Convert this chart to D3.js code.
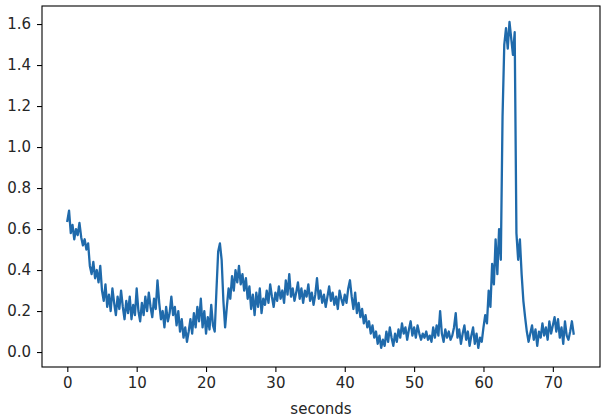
<!DOCTYPE html>
<html>
<head>
<meta charset="utf-8">
<script src="https://cdn.jsdelivr.net/npm/d3@7"></script>
<style>
  html, body { margin: 0; padding: 0; background: #fff; }
  svg { display: block; }
  text { font-family: "DejaVu Sans", sans-serif; fill: #262626; }
</style>
</head>
<body>
<svg id="chart" width="607" height="418"></svg>
<script>
// Sample interval of the recorded signal (seconds)
const sampleInterval = 0.25;

// Signal values, 4 samples per second
const signalValues = [
  0.64, 0.69, 0.58, 0.62,  0.55, 0.60, 0.57, 0.63,  0.56, 0.52, 0.55, 0.50,
  0.53, 0.42, 0.38, 0.44,  0.36, 0.40, 0.34, 0.42,  0.30, 0.25, 0.33, 0.22,
  0.28, 0.20, 0.31, 0.24,  0.18, 0.27, 0.21, 0.30,  0.22, 0.16, 0.25, 0.19,
  0.27, 0.16, 0.23, 0.18,  0.31, 0.20, 0.15, 0.24,  0.18, 0.27, 0.20, 0.29,
  0.22, 0.17, 0.26, 0.21,  0.35, 0.24, 0.16, 0.20,  0.12, 0.22, 0.15, 0.19,
  0.27, 0.18, 0.22, 0.13,  0.20, 0.10, 0.16, 0.07,  0.12, 0.05, 0.10, 0.16,
  0.09, 0.19, 0.12, 0.22,  0.15, 0.26, 0.12, 0.20,  0.09, 0.17, 0.11, 0.23,
  0.13, 0.10, 0.30, 0.49,  0.53, 0.45, 0.25, 0.12,  0.22, 0.31, 0.26, 0.37,
  0.30, 0.40, 0.34, 0.42,  0.33, 0.38, 0.30, 0.36,  0.26, 0.32, 0.21, 0.28,
  0.18, 0.29, 0.22, 0.31,  0.19, 0.26, 0.23, 0.30,  0.24, 0.33, 0.27, 0.22,
  0.29, 0.25, 0.32, 0.26,  0.30, 0.24, 0.35, 0.28,  0.38, 0.27, 0.31, 0.25,
  0.29, 0.34, 0.26, 0.31,  0.24, 0.30, 0.27, 0.33,  0.25, 0.29, 0.23, 0.28,
  0.36, 0.26, 0.30, 0.24,  0.28, 0.22, 0.27, 0.32,  0.25, 0.29, 0.23, 0.27,
  0.21, 0.30, 0.26, 0.23,  0.28, 0.24, 0.31, 0.35,  0.27, 0.21, 0.29, 0.19,
  0.24, 0.17, 0.21, 0.14,  0.18, 0.12, 0.15, 0.09,  0.13, 0.07, 0.10, 0.04,
  0.08, 0.02, 0.06, 0.03,  0.10, 0.05, 0.12, 0.07,  0.03, 0.09, 0.05, 0.11,
  0.07, 0.14, 0.09, 0.12,  0.06, 0.11, 0.15, 0.08,  0.12, 0.07, 0.13, 0.09,
  0.06, 0.09, 0.07, 0.10,  0.06, 0.08, 0.05, 0.12,  0.07, 0.13, 0.08, 0.20,
  0.09, 0.05, 0.11, 0.07,  0.10, 0.06, 0.08, 0.12,  0.19, 0.07, 0.11, 0.04,
  0.09, 0.13, 0.06, 0.10,  0.03, 0.08, 0.12, 0.04,  0.09, 0.02, 0.07, 0.05,
  0.12, 0.18, 0.14, 0.30,  0.22, 0.43, 0.33, 0.55,  0.38, 0.60, 0.45, 1.15,
  1.50, 1.58, 1.48, 1.61,  1.53, 1.45, 1.56, 0.58,  0.45, 0.55, 0.38, 0.25,
  0.17, 0.10, 0.05, 0.09,  0.13, 0.06, 0.11, 0.03,  0.10, 0.07, 0.14, 0.08,
  0.12, 0.06, 0.15, 0.09,  0.13, 0.17, 0.10, 0.16,  0.07, 0.12, 0.04, 0.15,
  0.08, 0.06, 0.10, 0.15,  0.09
];

const xTicks = [0, 10, 20, 30, 40, 50, 60, 70];
const yTicks = [0.0, 0.2, 0.4, 0.6, 0.8, 1.0, 1.2, 1.4, 1.6];
const xLabel = "seconds";

const data = signalValues.map((v, i) => ({ t: i * sampleInterval, v: v }));

const svg = d3.select("#chart");
const plot = { left: 42, right: 600, top: 6, bottom: 367 };

const x = d3.scaleLinear().domain([-3.65, 76.8]).range([plot.left, plot.right]);
const y = d3.scaleLinear().domain([-0.073, 1.688]).range([plot.bottom, plot.top]);

// line
const line = d3.line().x(d => x(d.t)).y(d => y(d.v));
svg.append("path")
  .datum(data)
  .attr("d", line)
  .attr("fill", "none")
  .attr("stroke", "#1f6aab")
  .attr("stroke-width", 2.3)
  .attr("stroke-linejoin", "round")
  .attr("stroke-linecap", "square");

// axes
const xAxis = d3.axisBottom(x).tickValues(xTicks).tickFormat(d3.format("d"))
  .tickSize(5).tickPadding(5);
const yAxis = d3.axisLeft(y).tickValues(yTicks).tickFormat(d3.format(".1f"))
  .tickSize(5).tickPadding(6);

const gx = svg.append("g").attr("transform", `translate(0,${plot.bottom})`).call(xAxis);
const gy = svg.append("g").attr("transform", `translate(${plot.left},0)`).call(yAxis);
[gx, gy].forEach(g => {
  g.select(".domain").remove();
  g.selectAll(".tick line").attr("stroke", "#000").attr("stroke-width", 1.1);
  g.selectAll(".tick text").attr("font-size", 15).attr("font-family", "DejaVu Sans").attr("fill", "#262626");
});

// frame
svg.append("rect")
  .attr("x", plot.left).attr("y", plot.top)
  .attr("width", plot.right - plot.left).attr("height", plot.bottom - plot.top)
  .attr("fill", "none").attr("stroke", "#000").attr("stroke-width", 1.1);

svg.append("text")
  .attr("x", (plot.left + plot.right) / 2)
  .attr("y", 414)
  .attr("text-anchor", "middle")
  .attr("font-size", 15)
  .text(xLabel);
</script>
</body>
</html>
